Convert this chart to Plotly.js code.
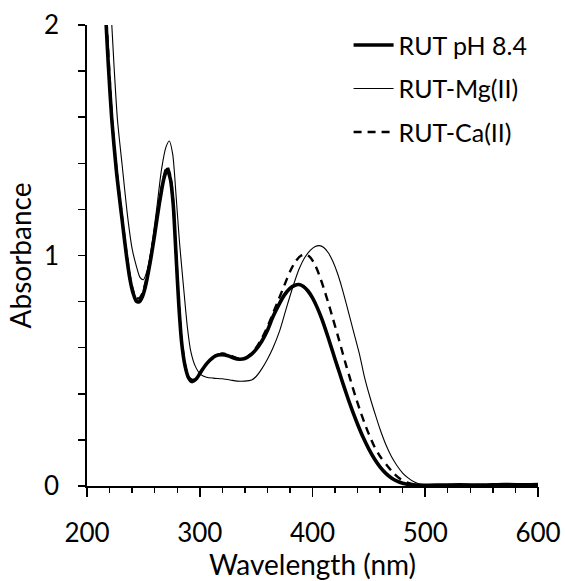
<!DOCTYPE html>
<html>
<head>
<meta charset="utf-8">
<script src="https://cdn.plot.ly/plotly-3.0.1.min.js"></script>
<style>html,body{margin:0;padding:0;background:#fff;}#chart{width:565px;height:581px;}</style>
</head>
<body>
<div id="chart"></div>
<script>
// RUT pH 8.4 (thick solid)
const wlRut = [215.5,217,219,222,226,231,235,238,241,244,246.5,249,252,256,260,264,268,271,274,276.5,279,281.5,284,287,290,293,297,301,306,311,316,320,325,330,335,340,345,350,355,360,365,370,375,380,384,388,392,396,400,404,408,412,416,420,424,428,432,436,440,445,450,455,460,465,470,475,480,486,492,500,515,530,550,570,590,600];
const absRut = [2.15,2.0,1.82,1.59,1.37,1.16,1.0,0.9,0.835,0.8,0.8,0.82,0.87,0.97,1.09,1.22,1.33,1.374,1.33,1.22,1.0,0.78,0.62,0.52,0.47,0.453,0.465,0.495,0.53,0.555,0.568,0.57,0.565,0.555,0.55,0.553,0.568,0.593,0.628,0.675,0.735,0.785,0.828,0.857,0.87,0.874,0.866,0.846,0.816,0.776,0.728,0.672,0.612,0.55,0.49,0.43,0.372,0.318,0.268,0.21,0.16,0.117,0.082,0.055,0.035,0.021,0.012,0.006,0.004,0.003,0.004,0.005,0.004,0.006,0.005,0.006];

// RUT-Mg(II) (thin solid)
const wlMg = [220,222,224,227,231,236,240,244,247,250,253,257,262,266,270,273,276,279,282,285.5,289,292,296,301,306,312,320,327,333,340,346,350,355,360,365,371,377,383,388,393,398,402,406,410,414,418,422,426,430,434,438,442,446,451,456,460,465,470,475,480,485,490,495,500,515,530,550,570,590,600];
const absMg = [2.15,2.0,1.82,1.59,1.40,1.17,1.03,0.95,0.905,0.895,0.93,1.03,1.21,1.37,1.47,1.497,1.44,1.26,1.06,0.87,0.69,0.585,0.52,0.483,0.472,0.468,0.465,0.46,0.455,0.455,0.46,0.475,0.508,0.55,0.60,0.675,0.775,0.87,0.94,0.99,1.022,1.038,1.043,1.035,1.012,0.975,0.925,0.862,0.79,0.715,0.64,0.565,0.475,0.385,0.305,0.245,0.18,0.128,0.088,0.056,0.034,0.018,0.009,0.005,0.004,0.005,0.004,0.006,0.005,0.006];

// RUT-Ca(II) (dashed)
const wlCa = [215.5,217.5,220,222,226,231,235,238,241,244,246.5,249,252,256,260,264,268,271,274,276.5,279,281.5,284,287,290,294,300,306,312,320,328,335,340,345,350,355,360,365,370,375,380,385,390,394,398,402,406,410,414,418,422,426,430,434,438,442,446,450,455,460,466,472,478,485,492,500,515,530,550,570,590,600];
const absCa = [2.2,2.0,1.78,1.6,1.38,1.17,1.01,0.91,0.845,0.815,0.815,0.835,0.885,0.98,1.10,1.23,1.34,1.388,1.345,1.23,1.01,0.79,0.63,0.525,0.472,0.46,0.49,0.53,0.555,0.575,0.565,0.552,0.555,0.572,0.6,0.64,0.69,0.75,0.81,0.87,0.93,0.975,1.0,1.005,0.992,0.962,0.915,0.858,0.795,0.728,0.66,0.59,0.52,0.455,0.39,0.33,0.275,0.225,0.17,0.128,0.09,0.055,0.03,0.013,0.006,0.004,0.004,0.005,0.004,0.006,0.005,0.006];

const names = ['RUT pH 8.4','RUT-Mg(II)','RUT-Ca(II)'];
const xTickVals = [200,300,400,500,600];
const xTickText = ['200','300','400','500','600'];
const yTickVals = [0,1,2];
const yTickText = ['0','1','2'];
const xMinorStep = 20;
const yMinorStep = 0.2;

// minor tick positions along the axes
const xMinor = [];
for (let v = xTickVals[0]; v <= xTickVals[xTickVals.length-1] + 1e-9; v += xMinorStep) xMinor.push(+v.toFixed(6));
const yAllTicks = [];
for (let v = yTickVals[0]; v <= yTickVals[yTickVals.length-1] + 1e-9; v += yMinorStep) yAllTicks.push(+v.toFixed(6));
const yAllText = yAllTicks.map(v => {
  const i = yTickVals.findIndex(t => Math.abs(t - v) < 1e-6);
  return i >= 0 ? yTickText[i] : '';
});

const FONT = 'Lato, "Open Sans", sans-serif';

const traces = [
  {x: wlRut, y: absRut, name: names[0], mode:'lines', legendgroup:'a',
   line:{color:'#000', width:3.6, shape:'spline', smoothing:0.7}},
  {x: wlMg, y: absMg, name: names[1], mode:'lines', legendgroup:'b',
   line:{color:'#000', width:1.1, shape:'spline', smoothing:0.7}},
  {x: wlCa, y: absCa, name: names[2], mode:'lines', legendgroup:'c',
   line:{color:'#000', width:2.4, dash:'8px,6px', shape:'spline', smoothing:0.7}},
  // empty helper trace so the minor-tick overlay x axis is drawn
  {x: [], y: [], xaxis:'x2', yaxis:'y', mode:'lines', showlegend:false, hoverinfo:'skip'}
];

const layout = {
  width:565, height:581,
  margin:{l:87, r:27, t:25, b:95},
  paper_bgcolor:'#fff', plot_bgcolor:'#fff',
  font:{family:FONT, color:'#000', size:25},
  showlegend:true,
  legend:{x:0.58, xanchor:'left', y:1.006, yanchor:'top', bgcolor:'rgba(0,0,0,0)',
          font:{family:FONT, size:25, color:'#000'}, tracegroupgap:8, itemwidth:40},
  xaxis:{range:[200,600], tickvals:xTickVals, ticktext:xTickText,
         showline:true, linecolor:'#000', linewidth:1.6, showgrid:false, zeroline:false,
         ticks:'outside', ticklen:9, tickwidth:1.6, tickcolor:'#000',
         tickfont:{family:FONT, size:26, color:'#000'}, ticklabelstandoff:14,
         title:{text:'Wavelength (nm)', font:{family:FONT, size:28, color:'#000'}, standoff:14}},
  yaxis:{range:[0,2], tickvals:yAllTicks, ticktext:yAllText,
         showline:true, linecolor:'#000', linewidth:1.6, showgrid:false, zeroline:false,
         ticks:'outside', ticklen:7, tickwidth:1.5, tickcolor:'#000',
         tickfont:{family:FONT, size:26, color:'#000'}, ticklabelstandoff:14,
         title:{text:'Absorbance', font:{family:FONT, size:28, color:'#000'}, standoff:4}},
  xaxis2:{range:[200,600], overlaying:'x', anchor:'y', side:'bottom',
          tickvals:xMinor, showticklabels:false, ticks:'outside', ticklen:6, tickwidth:1.4, tickcolor:'#000',
          showline:false, showgrid:false, zeroline:false}
};

Plotly.newPlot('chart', traces, layout, {displayModeBar:false, staticPlot:true});
</script>
</body>
</html>
